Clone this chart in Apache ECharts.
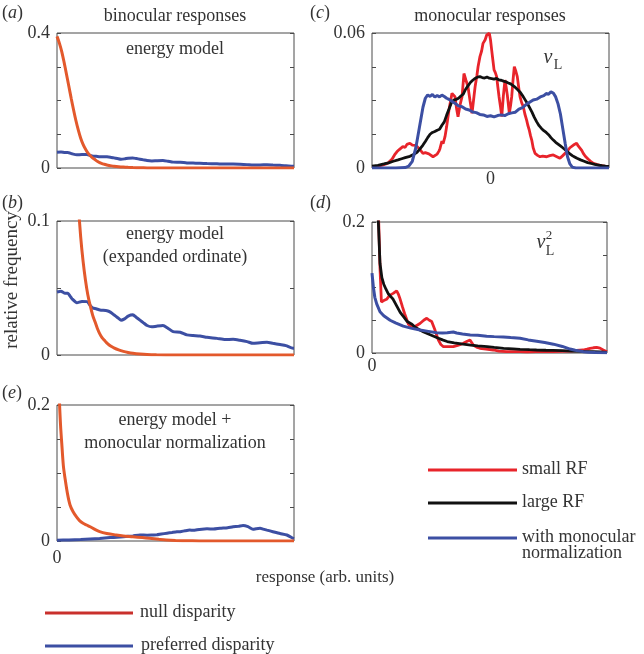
<!DOCTYPE html>
<html>
<head>
<meta charset="utf-8">
<script src="https://cdn.jsdelivr.net/npm/echarts@6/dist/echarts.min.js"></script>
<style>
html,body{margin:0;padding:0;background:#fff;}
#chart{width:644px;height:654px;}
</style>
</head>
<body>
<div id="chart"></div>
<script>
// ---------- DATA ----------
// panels (a) & (b): energy model, binocular responses  [x (arb. units, 0-100), relative frequency]
const binNull = [[0,0.39],[1,0.37],[2,0.345],[3,0.313],[4,0.278],[5,0.242],[6,0.206],[7,0.172],[8,0.14],[9,0.112],[10,0.088],[11,0.07],[12,0.056],[13,0.045],[14,0.037],[15,0.03],[16,0.025],[17,0.02],[18,0.016],[19,0.013],[20,0.011],[21,0.009],[22,0.0075],[23,0.0063],[24,0.0053],[26,0.0038],[28,0.0027],[30,0.0019],[32,0.0013],[35,0.0007],[38,0.0003],[42,0.0001],[50,0],[60,0],[70,0],[80,0],[90,0],[100,0]];
const binPref = [[0,0.047],[1.7,0.0475],[3.4,0.046],[4.6,0.046],[5.5,0.044],[6.3,0.042],[8.4,0.039],[10.5,0.040],[12.7,0.0398],[14,0.037],[15.2,0.035],[16.5,0.0345],[18.1,0.0336],[21.1,0.033],[22.5,0.032],[24,0.03],[25.5,0.028],[27,0.026],[28.5,0.027],[30,0.029],[32,0.030],[33.5,0.028],[35,0.026],[36.5,0.024],[38,0.022],[40,0.021],[42,0.0215],[44.7,0.022],[46.8,0.020],[49,0.0174],[52,0.017],[54.8,0.015],[57.4,0.0145],[60.3,0.0142],[63.3,0.0132],[67.5,0.0124],[70.9,0.0115],[74.3,0.0117],[77.2,0.011],[80.2,0.010],[82.7,0.0087],[85.7,0.0092],[88.6,0.0095],[91.1,0.0087],[94.1,0.0078],[96.6,0.007],[99.6,0.005],[100,0.005]];
// panel (e): energy model + monocular normalization
const normNull = [[0,0.4],[0.5,0.3],[1,0.21],[1.5,0.17],[2,0.144],[2.7,0.11],[3.4,0.092],[4.4,0.07],[5.5,0.053],[6.8,0.043],[8.3,0.035],[9.5,0.03],[11,0.026],[12.5,0.0235],[14,0.021],[16,0.017],[18,0.0137],[21,0.011],[25,0.0088],[28,0.0075],[32,0.0063],[36,0.005],[39,0.004],[43,0.0025],[46,0.0015],[50,0.0008],[56,0.0003],[60,0],[70,0],[80,0],[90,0],[100,0]];
const normPref = [[0,0.0012],[5,0.0015],[10,0.0022],[14,0.003],[18,0.0038],[22.4,0.005],[25.3,0.0055],[28,0.0062],[32,0.0075],[35,0.0088],[38,0.0085],[40.5,0.0088],[42,0.009],[44,0.0102],[46.4,0.0115],[48.5,0.0125],[50.6,0.0135],[52,0.0137],[54,0.015],[56,0.016],[57.4,0.0158],[60,0.017],[63.3,0.018],[66,0.0175],[68.8,0.0187],[72,0.0195],[74.3,0.021],[76.5,0.0215],[78.5,0.0228],[80.6,0.021],[82.7,0.0172],[84,0.018],[85.7,0.0187],[87,0.0175],[88.6,0.016],[91.1,0.0137],[94.1,0.011],[97,0.0088],[99.6,0.004],[100,0.0035]];
// panel (c): monocular responses v_L  [x (-100..100), relative frequency]
const monoSmall = [[-100,0.0004],[-96,0.0006],[-93,0.001],[-90,0.0015],[-87,0.002],[-85,0.003],[-83,0.004],[-81,0.0058],[-79,0.0072],[-77,0.0082],[-76,0.0085],[-74,0.0095],[-72,0.0092],[-70.5,0.0105],[-68,0.011],[-66,0.0102],[-65,0.0098],[-63,0.0101],[-62,0.0095],[-60,0.0085],[-59.5,0.0078],[-57,0.0065],[-55,0.0068],[-54,0.0065],[-52,0.0063],[-51,0.006],[-48.5,0.005],[-47,0.0056],[-45,0.0062],[-43.5,0.0075],[-42.6,0.0087],[-41,0.012],[-40,0.0108],[-38.4,0.0139],[-37,0.0184],[-35,0.026],[-32.5,0.0332],[-31,0.0328],[-30,0.0317],[-28.5,0.026],[-27.4,0.0228],[-25.7,0.028],[-24,0.0317],[-22.4,0.042],[-20.7,0.039],[-19,0.0361],[-17.3,0.030],[-15.6,0.0243],[-13.9,0.032],[-13,0.0361],[-11.5,0.041],[-10.5,0.045],[-8.9,0.0495],[-7.5,0.052],[-6.3,0.0554],[-4.5,0.057],[-3.2,0.0591],[-1,0.0599],[0,0.057],[1,0.0524],[2,0.048],[3,0.0436],[4,0.0425],[5.2,0.0406],[6.2,0.036],[7.2,0.0317],[8.5,0.027],[9.5,0.0228],[10.8,0.0317],[12.2,0.0391],[13.2,0.036],[14.2,0.0324],[15.9,0.0243],[17,0.028],[17.9,0.0317],[19,0.039],[20.1,0.045],[21.4,0.043],[22.6,0.0406],[24,0.035],[24.9,0.0317],[26.3,0.029],[27.7,0.0272],[29,0.024],[30.5,0.0213],[31.5,0.019],[32.7,0.0169],[33.7,0.0145],[34.8,0.0124],[36,0.009],[37.6,0.0065],[40,0.0055],[41.8,0.005],[44,0.0053],[47.4,0.005],[50,0.0055],[53,0.0058],[56,0.005],[58.6,0.0043],[61,0.0055],[64.3,0.0072],[67,0.009],[70,0.0102],[72.7,0.011],[74,0.0098],[75.5,0.009],[77,0.0078],[78.3,0.0065],[80,0.0052],[82.3,0.004],[84.5,0.003],[86.8,0.0021],[89.5,0.0016],[92.4,0.0012],[95,0.0009],[98,0.0006],[100,0.0005]];
const monoLarge = [[-100,0.0008],[-95,0.0012],[-90,0.0018],[-86,0.0023],[-82,0.003],[-78,0.0036],[-75,0.0041],[-72,0.0046],[-68,0.0052],[-65,0.006],[-62,0.007],[-59.5,0.0085],[-57,0.0102],[-55,0.0118],[-53,0.0135],[-51,0.015],[-49,0.0158],[-47,0.0162],[-45,0.0168],[-43,0.0172],[-41,0.019],[-39,0.0205],[-37,0.0235],[-35,0.0262],[-33,0.029],[-31,0.0302],[-29,0.0305],[-27,0.031],[-25,0.032],[-23,0.0328],[-21,0.035],[-19,0.0365],[-17,0.038],[-15,0.039],[-13,0.0398],[-11,0.0404],[-9,0.0406],[-7,0.0402],[-5,0.04],[-3,0.0404],[-1,0.0399],[1,0.0397],[3,0.0395],[5,0.0398],[7,0.0392],[9,0.039],[11,0.0386],[13,0.0383],[15,0.0378],[17,0.0374],[19,0.0366],[21,0.0358],[23,0.0348],[25,0.0337],[27,0.0322],[29,0.0305],[31,0.0288],[33,0.0268],[35,0.0248],[37,0.0225],[39,0.0205],[41,0.0188],[43,0.0176],[45,0.0166],[47,0.0158],[49,0.0148],[51,0.0135],[53,0.0124],[55,0.0114],[57,0.0106],[59,0.0098],[61,0.009],[63,0.0081],[65,0.0072],[67,0.0063],[69,0.0055],[71,0.0049],[73,0.0043],[76,0.0036],[79,0.003],[82,0.0024],[85,0.002],[88,0.0016],[91,0.0013],[94,0.001],[97,0.0008],[100,0.0007]];
const monoNorm = [[-100,0],[-90,0],[-80,0],[-72,0.0002],[-69,0.0008],[-66,0.003],[-63,0.009],[-60,0.018],[-57,0.027],[-55,0.031],[-53,0.0325],[-51,0.0318],[-49,0.0327],[-47,0.0315],[-45,0.0322],[-43,0.0316],[-41,0.0324],[-39,0.0318],[-37,0.031],[-35,0.0305],[-33,0.0298],[-30,0.0288],[-27,0.0276],[-24,0.0272],[-21,0.0262],[-18,0.0258],[-15,0.0249],[-12,0.0246],[-9,0.0238],[-6,0.0236],[-3,0.0229],[0,0.0232],[3,0.0227],[6,0.0233],[9,0.0236],[12,0.0233],[15,0.0241],[18,0.0245],[21,0.0248],[24,0.0262],[27,0.0268],[30,0.0282],[33,0.0292],[36,0.0302],[39,0.0306],[42,0.0316],[45,0.0322],[47,0.0331],[49,0.0328],[51,0.0338],[53,0.0333],[55,0.0316],[57,0.0285],[59,0.024],[61,0.0175],[63,0.011],[65,0.005],[67,0.0018],[69,0.0004],[72,0],[80,0],[90,0],[100,0]];
// panel (d): v_L^2  [x (0-100), relative frequency]
const sqSmall = [[0,0.6],[2,0.4],[2.7,0.22],[3.4,0.13],[4,0.078],[5,0.08],[6.2,0.082],[7.5,0.088],[9,0.091],[10.5,0.095],[11.2,0.09],[11.9,0.083],[13,0.07],[13.9,0.06],[15.5,0.044],[16.5,0.041],[17.6,0.039],[19,0.042],[20.4,0.045],[22,0.05],[23.3,0.053],[24.4,0.05],[25.4,0.048],[26.8,0.035],[28.2,0.02],[29.3,0.013],[30.4,0.0096],[32.5,0.0098],[34.6,0.0096],[36.8,0.012],[38.9,0.0148],[40.5,0.018],[41.7,0.0198],[43.1,0.0122],[44.5,0.009],[45.9,0.0072],[48.5,0.006],[51.6,0.0046],[54,0.003],[57.2,0.002],[60,0.0022],[63,0.002],[66,0.0018],[70,0.002],[73.5,0.0022],[77,0.002],[80.5,0.0025],[84.3,0.003],[87,0.0038],[89.9,0.0046],[91.5,0.006],[92.8,0.0072],[94.2,0.008],[95.6,0.0087],[97,0.0075],[98.4,0.0046],[100,0.002]];
const sqLarge = [[0,0.6],[1,0.4],[2,0.26],[2.7,0.2],[3.4,0.137],[4.2,0.115],[5,0.105],[6,0.097],[7,0.09],[8,0.086],[9,0.082],[10.5,0.072],[12,0.062],[13.5,0.055],[15,0.048],[17,0.044],[18.5,0.039],[20,0.036],[22,0.032],[24,0.029],[26,0.026],[28,0.023],[30,0.02],[32,0.0175],[35,0.0155],[38,0.0138],[42,0.012],[45,0.0108],[49,0.0096],[52,0.0085],[56,0.0072],[60,0.0063],[63,0.0056],[67,0.005],[70,0.0046],[74,0.0042],[77,0.004],[81,0.0035],[85,0.003],[90,0.0024],[94,0.002],[97,0.0015],[100,0.001]];
const sqNorm = [[0,0.122],[0.6,0.1],[1.2,0.085],[2,0.075],[3.4,0.063],[5,0.057],[7.7,0.05],[10,0.046],[13.3,0.041],[16.5,0.038],[20.4,0.035],[24,0.033],[27.5,0.031],[30,0.0305],[32,0.031],[34.6,0.032],[36,0.0305],[38.5,0.029],[41.8,0.0275],[45,0.027],[48.8,0.0255],[52,0.025],[55.9,0.0245],[59,0.0235],[63,0.0224],[66.5,0.02],[70.1,0.018],[73.5,0.016],[77.2,0.0135],[81,0.01],[84.3,0.006],[86.5,0.0042],[88.5,0.003],[90,0.002],[92,0.001],[95,0.0006],[100,0.0005]];

// tick labels [bottom, top] for each panel's ordinate
const ticksA = ['0', '0.4'];
const ticksB = ['0', '0.1'];
const ticksC = ['0', '0.06'];
const ticksD = ['0', '0.2'];
const ticksE = ['0', '0.2'];
const xZeroLabel = '0';

// legend texts
const binLegend = ['null disparity', 'preferred disparity'];
const monoLegend = ['small RF', 'large RF', 'with monocular', 'normalization'];

// ---------- CHART ----------
const FONT = '"Liberation Serif", "Times New Roman", serif';
const TXT = '#333';
const TICK = '#4a4a4a';
const C_NULL = '#e3592c', C_PREF = '#3c4fa3', C_RED = '#e8242b', C_BLACK = '#111111', C_LEG_NULL = '#c9302c';

const panels = [
  {l:57, t:33, w:237, h:135, ymax:0.4, yi:0.1, ticks:ticksA, xmin:0, xmax:100, xl:false},
  {l:57, t:221, w:237, h:134, ymax:0.1, yi:0.05, ticks:ticksB, xmin:0, xmax:100, xl:false},
  {l:57, t:405, w:237, h:136, ymax:0.2, yi:0.05, ticks:ticksE, xmin:0, xmax:100, xl:true, xm:8},
  {l:372, t:33, w:237, h:135, ymax:0.06, yi:0.015, ticks:ticksC, xmin:-100, xmax:100, xl:true, xm:2},
  {l:372, t:222, w:235, h:131, ymax:0.2, yi:0.05, ticks:ticksD, xmin:0, xmax:100, xl:true, xm:4}
];

const grids = [], xAxes = [], yAxes = [];
panels.forEach((p, i) => {
  grids.push({left:p.l, top:p.t, width:p.w, height:p.h, show:true, borderColor:TICK, borderWidth:1});
  xAxes.push({gridIndex:i, type:'value', min:p.xmin, max:p.xmax, interval:100,
    axisLine:{show:false, onZero:false}, axisTick:{show:false}, splitLine:{show:false},
    axisLabel:{show:p.xl, margin:p.xm || 6, color:TXT, fontFamily:FONT, fontSize:18, showMinLabel:true, showMaxLabel:true,
      formatter: v => (v === 0 ? xZeroLabel : '')}});
  const lab = v => (Math.abs(v) < 1e-12 ? p.ticks[0] : (Math.abs(v - p.ymax) < 1e-9 ? p.ticks[1] : ''));
  yAxes.push({gridIndex:i, type:'value', position:'left', min:0, max:p.ymax, interval:p.yi,
    axisLine:{show:false, onZero:false}, splitLine:{show:false},
    axisTick:{show:true, inside:true, length:4, lineStyle:{color:TICK, width:1}},
    axisLabel:{show:true, margin:7, color:TXT, fontFamily:FONT, fontSize:18, showMinLabel:true, showMaxLabel:true, formatter:lab}});
  yAxes.push({gridIndex:i, type:'value', position:'right', min:0, max:p.ymax, interval:p.yi,
    axisLine:{show:false, onZero:false}, splitLine:{show:false},
    axisTick:{show:true, inside:true, length:4, lineStyle:{color:TICK, width:1}},
    axisLabel:{show:false}});
});

function line(name, data, gi, color, width, smooth) {
  return {name, type:'line', data, xAxisIndex:gi, yAxisIndex:gi*2, showSymbol:false, symbol:'none',
    smooth: smooth || false, clip:true, lineStyle:{color, width}, itemStyle:{color}, z:2};
}

const series = [
  line('preferred disparity', binPref, 0, C_PREF, 3, 0.2),
  line('null disparity', binNull, 0, C_NULL, 3, 0.3),
  line('preferred disparity', binPref, 1, C_PREF, 3, 0.2),
  line('null disparity', binNull, 1, C_NULL, 3, 0.3),
  line('preferred disparity', normPref, 2, C_PREF, 3, 0.2),
  line('null disparity', normNull, 2, C_NULL, 3, 0.3),
  line('small RF', monoSmall, 3, C_RED, 2.8),
  line('large RF', monoLarge, 3, C_BLACK, 2.8),
  line('with monocular normalization', monoNorm, 3, C_PREF, 3),
  line('small RF', sqSmall, 4, C_RED, 2.8),
  line('large RF', sqLarge, 4, C_BLACK, 2.8),
  line('with monocular normalization', sqNorm, 4, C_PREF, 3)
];

const F18 = '18px ' + FONT;
function txt(text, x, y, align, font, extra) {
  return Object.assign({type:'text', x, y, silent:true,
    style:{text, font: font || F18, fill:TXT, align: align || 'center', verticalAlign:'middle'}}, extra || {});
}
function panelLabel(letter, x, y) {
  return {type:'text', x, y, silent:true,
    style:{text:'{n|(}{i|' + letter + '}{n|)}', fill:TXT, align:'left', verticalAlign:'middle',
      rich:{n:{font:F18, fill:TXT}, i:{font:'italic ' + F18, fill:TXT}}}};
}
function legLine(x1, x2, y, color) {
  return {type:'line', silent:true, shape:{x1, y1:y, x2, y2:y}, style:{stroke:color, lineWidth:3}};
}

const graphic = [
  panelLabel('a', 2, 13), panelLabel('b', 2, 203), panelLabel('e', 2, 393),
  panelLabel('c', 310, 13), panelLabel('d', 310, 203),
  txt('binocular responses', 175, 16),
  txt('monocular responses', 490, 16),
  txt('energy model', 175, 49),
  txt('energy model', 175, 234),
  txt('(expanded ordinate)', 175, 257),
  txt('energy model +', 175, 420),
  txt('monocular normalization', 175, 443),
  txt('v', 548, 58, 'center', 'italic 20px ' + FONT),
  txt('L', 558, 65, 'center', '14px ' + FONT),
  txt('v', 541, 243, 'center', 'italic 20px ' + FONT),
  txt('2', 549, 236, 'center', '13px ' + FONT),
  txt('L', 550, 251, 'center', '14px ' + FONT),
  txt('relative frequency', 12, 280, 'center', '19px ' + FONT, {rotation: Math.PI / 2}),
  txt('response (arb. units)', 325, 578, 'center', '17px ' + FONT),
  legLine(45, 133, 613, C_LEG_NULL), txt(binLegend[0], 140, 612, 'left'),
  legLine(45, 133, 646, C_PREF), txt(binLegend[1], 141, 645, 'left'),
  legLine(428, 517, 470, C_RED), txt(monoLegend[0], 522, 469, 'left'),
  legLine(428, 517, 503, C_BLACK), txt(monoLegend[1], 522, 502, 'left'),
  legLine(428, 517, 538, C_PREF), txt(monoLegend[2], 522, 537, 'left'),
  txt(monoLegend[3], 522, 553, 'left')
];

const chart = echarts.init(document.getElementById('chart'), null, {renderer:'canvas'});
chart.setOption({animation:false, backgroundColor:'#fff', grid:grids, xAxis:xAxes, yAxis:yAxes, series, graphic});
</script>
</body>
</html>
